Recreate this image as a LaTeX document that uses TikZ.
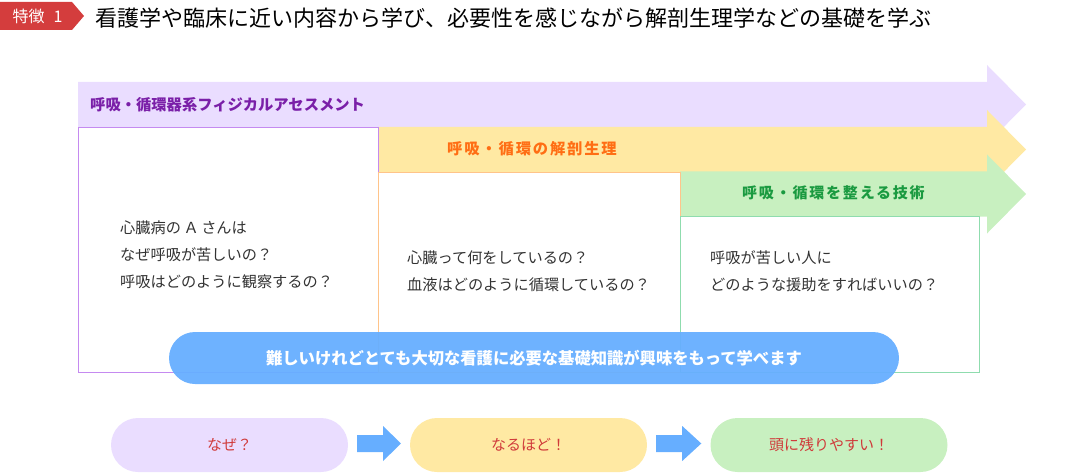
\documentclass[tikz,border=0pt]{standalone}
\usepackage{fontspec}
\setmainfont{Noto Sans CJK JP}
\newfontfamily\jpspaced{Noto Sans CJK JP}[LetterSpace=12]
\usetikzlibrary{calc}

\definecolor{tagred}{HTML}{D43D3D}
\definecolor{purpleband}{HTML}{EADDFF}
\definecolor{purpletext}{HTML}{7A1FA8}
\definecolor{purpleline}{HTML}{C58AF0}
\definecolor{yellowband}{HTML}{FFE9A3}
\definecolor{orangetext}{HTML}{FF6E14}
\definecolor{orangeline}{HTML}{FFC48A}
\definecolor{greenband}{HTML}{C8F0C0}
\definecolor{greentext}{HTML}{1A9A40}
\definecolor{greenline}{HTML}{8FDCAE}
\definecolor{pillblue}{HTML}{66AEFF}
\definecolor{bodygray}{HTML}{333333}
\definecolor{pillred}{HTML}{D03A3A}

% block arrow between two pills
\newcommand\flowarrow[2]{%
  \fill[pillblue] ($(#1.east)+(9,-10)$) -- ($(#1.east)+(35,-10)$) -- ($(#1.east)+(35,-19)$)
    -- ($(#2.west)+(-9,-1.5)$) -- ($(#1.east)+(35,16)$) -- ($(#1.east)+(35,7)$)
    -- ($(#1.east)+(9,7)$) -- cycle;}

\begin{document}
\begin{tikzpicture}[x=1pt, y=-1pt,
    bandlabel/.style={anchor=west, inner sep=0pt, font=\fontsize{15.3}{15}\selectfont\bfseries},
    boxtext/.style={anchor=west, inner sep=0pt, align=left, text=bodygray,
      font=\fontsize{15.2}{27}\selectfont},
    pill/.style={rounded corners=27pt, minimum width=237pt, minimum height=54pt,
      inner sep=0pt, text=pillred, font=\fontsize{15}{15}\selectfont}]
    % 1. Vùng hiển thị
    \useasboundingbox (0,0) rectangle (1083,473);

    % 2. Tiêu đề
    \fill[tagred] (0,2) -- (72,2) -- (84,16) -- (72,30) -- (0,30) -- cycle;
    \node[text=white, font=\fontsize{16}{16}\selectfont] (tag) at (37.5,16) {特徴\hspace{9pt}1};
    \node[anchor=west, inner sep=0pt, font=\fontsize{22}{22}\selectfont] (title) at (95,18)
        {看護学や臨床に近い内容から学び、必要性を感じながら解剖生理学などの基礎を学ぶ};

    % 3. Ba mũi tên lớn
    \fill[purpleband] (78,82) -- (987,82) -- (987,65) -- (1026,104.5) -- (987,144) -- (987,127) -- (78,127) -- cycle;
    \fill[yellowband] (378,127) -- (987,127) -- (987,110) -- (1026,149.5) -- (987,189) -- (987,172) -- (378,172) -- cycle;
    \fill[greenband] (680,171.5) -- (987,171.5) -- (987,154.5) -- (1026,194) -- (987,233.5) -- (987,216.5) -- (680,216.5) -- cycle;
    \node[bandlabel, text=purpletext] (assess) at (90,104.5) {呼吸・循環器系フィジカルアセスメント};
    \node[bandlabel, text=orangetext, font=\fontsize{15.3}{15}\jpspaced\bfseries] (anatomy) at (447,149) {呼吸・循環の解剖生理};
    \node[bandlabel, text=greentext, font=\fontsize{15}{15}\jpspaced\bfseries] (skill) at (742,193) {呼吸・循環を整える技術};

    % 4. Ba khung
    \draw[purpleline] (78,127) rectangle (378,372);
    \draw[orangeline] (378,172) rectangle (680,372);
    \draw[greenline] (680,216.5) rectangle (979,372);
    \node[boxtext] (q1) at (120,255) {心臓病の\,Ａ\,さんは\\なぜ呼吸が苦しいの？\\呼吸はどのように観察するの？};
    \node[boxtext] (q2) at (407,271.5) {心臓って何をしているの？\\血液はどのように循環しているの？};
    \node[boxtext] (q3) at (710,271.5) {呼吸が苦しい人に\\どのような援助をすればいいの？};

    % 5. Dải xanh
    \node[fill=pillblue, fill opacity=0.95, text opacity=1, text=white, rounded corners=26pt,
        minimum width=730pt, minimum height=52pt, font=\fontsize{16.3}{16}\selectfont\bfseries] (motto) at (534,358)
        {難しいけれどとても大切な看護に必要な基礎知識が興味をもって学べます};

    % 6. Các bước cuối
    \node[pill, fill=purpleband] (why) at (229.5,445) {なぜ？};
    \node[pill, fill=yellowband] (aha) at (528.5,445) {なるほど！};
    \node[pill, fill=greenband] (keep) at (829,445) {頭に残りやすい！};
    \flowarrow{why}{aha}
    \flowarrow{aha}{keep}
\end{tikzpicture}
\end{document}
